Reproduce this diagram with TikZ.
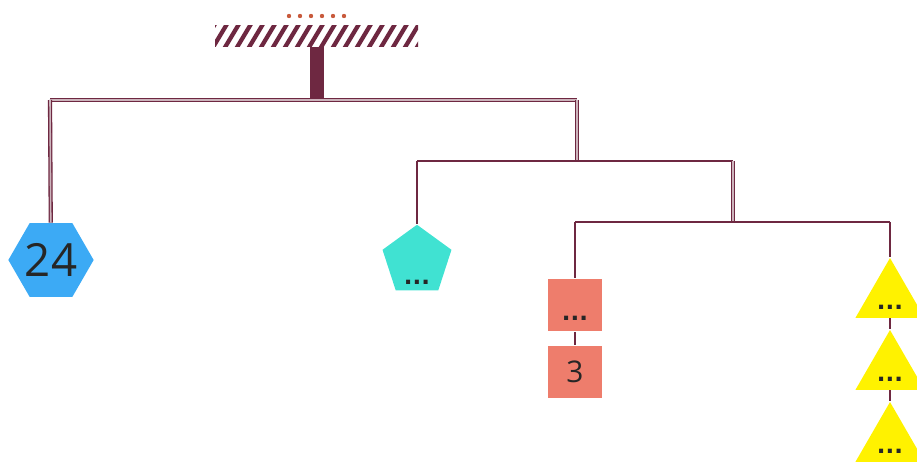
\documentclass[tikz,border=0pt]{standalone}
\usepackage{fontspec}
\setmainfont{Open Sans}
\newfontfamily\puntosfont{DejaVu Sans}
\usetikzlibrary{shapes.geometric,calc}
\definecolor{varilla}{RGB}{110,40,65}
\definecolor{puntos}{RGB}{200,90,60}
\definecolor{azul}{RGB}{60,170,245}
\definecolor{turquesa}{RGB}{64,226,210}
\definecolor{salmon}{RGB}{238,125,108}
\definecolor{amarillo}{RGB}{255,242,0}
\tikzset{
  barra/.style={draw=varilla, line width=1.5pt},
  barradoble/.style={draw=varilla, double=varilla!35, double distance=0.9pt, line width=0.75pt},
  pesa/.style={regular polygon, inner sep=0pt, text=black!85},
  tresp/.style={anchor=south, inner sep=0pt, yshift=#1, font=\puntosfont\bfseries\fontsize{13}{13}\selectfont, text=black!85},
}
\begin{document}
\begin{tikzpicture}[x=0.02cm, y=-0.02cm]
    \useasboundingbox (0,0) rectangle (917,462);

    % Techo rayado
    \begin{scope}
        \clip (215,26) rectangle (418,47);
        \foreach \x in {200,212,...,424} {
            \draw[varilla, line width=2.4pt] (\x,49) -- ++(15,-25);
        }
    \end{scope}
    \foreach \x in {289,300,...,345} {
        \fill[puntos] (\x,16) circle (2.2);
    }

    % Puntos de la varilla
    \coordinate (techo) at (317,47);
    \coordinate (v1) at (317,100);
    \coordinate (v1i) at (50,100);
    \coordinate (v1d) at (577,100);
    \coordinate (v2) at (577,161);
    \coordinate (v2i) at (417,161);
    \coordinate (v2d) at (733,161);
    \coordinate (v3) at (733,222);
    \coordinate (v3i) at (575,222);
    \coordinate (v3d) at (890,222);

    % Pesas
    \node[pesa, regular polygon sides=6, minimum size=1.7cm, fill=azul,
          font=\fontsize{26}{26}\selectfont] (hexa) at (51,260) {24};
    \node[pesa, regular polygon sides=5, minimum size=1.45cm, fill=turquesa,
          label={[tresp=3.5pt]south:...}] (penta) at (417,261) {};
    \node[fill=salmon, minimum width=1.08cm, minimum height=1.06cm, inner sep=0pt,
          label={[tresp=6pt]south:...}] (caja1) at (575,305) {};
    \node[fill=salmon, minimum width=1.08cm, minimum height=1.06cm, inner sep=0pt,
          text=black!85, font=\fontsize{17}{17}\selectfont] (caja2) at (575,372) {3};
    \foreach \n/\y in {1/298,2/370,3/442} {
        \node[pesa, regular polygon sides=3, minimum size=1.6cm, fill=amarillo,
              label={[tresp=5pt]south:...}] (tri\n) at (890,\y) {};
    }

    % Varillas
    \fill[varilla] ($(techo)+(-7,0)$) rectangle ($(v1)+(7,0)$);
    \draw[barradoble] (v1i) -- (v1d);
    \draw[barradoble] (v1i) -- (hexa);
    \draw[barradoble] (v1d) -- (v2);
    \draw[barra] (v2i) -- (v2d);
    \draw[barra] (v2i) -- (penta);
    \draw[barradoble] (v2d) -- (v3);
    \draw[barra] (v3i) -- (v3d);
    \draw[barra] (v3i) -- (caja1);
    \draw[barra] (v3d) -- (tri1);
    \draw[barra] (caja1) -- (caja2);
    \draw[barra] (tri1) -- (tri2);
    \draw[barra] (tri2) -- (tri3);
\end{tikzpicture}
\end{document}
